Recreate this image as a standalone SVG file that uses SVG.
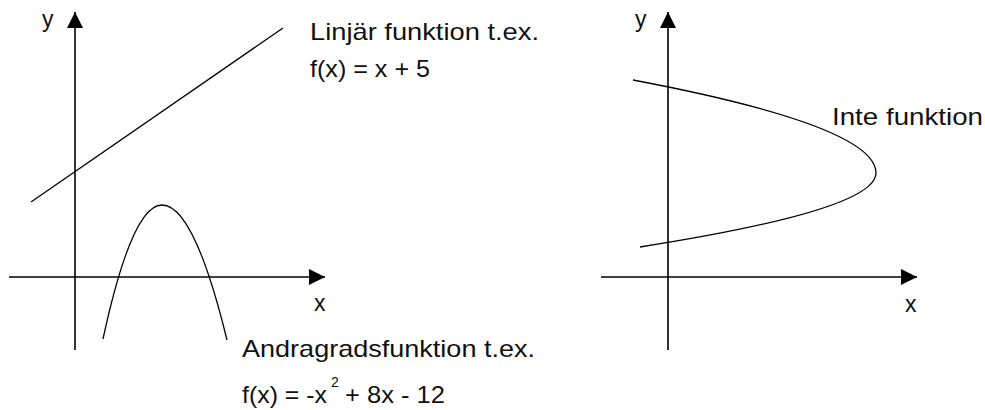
<svg xmlns="http://www.w3.org/2000/svg" width="985" height="410" viewBox="0 0 985 410">
<style>
.ax{stroke:#000;stroke-width:1.6;fill:none}
.cv{stroke:#000;stroke-width:1.3;fill:none}
text{font-family:"Liberation Sans",Arial,sans-serif;fill:#111}
.lb{font-size:24px}
.al{font-size:23px}
.sup{font-size:14px}
</style>
<defs>
<marker id="arr" markerUnits="userSpaceOnUse" markerWidth="17" markerHeight="18" refX="16" refY="9" orient="auto" viewBox="0 0 17 18">
<path d="M0,1 L16,9 L0,17 z" fill="#000"/>
</marker>
</defs>
<g id="left-graph">
<g id="left-axes">
<line class="ax" x1="9" y1="277" x2="325" y2="277" marker-end="url(#arr)"/>
<line class="ax" x1="75" y1="350" x2="75" y2="12" marker-end="url(#arr)"/>
<text class="al" x="42" y="27">y</text>
<text class="al" x="314" y="311">x</text>
</g>
<g id="linear">
<line class="cv" x1="31" y1="202" x2="283" y2="28"/>
<text class="lb" x="310" y="40" textLength="229" lengthAdjust="spacingAndGlyphs">Linjär funktion t.ex.</text>
<text class="lb" x="310" y="77" textLength="120" lengthAdjust="spacingAndGlyphs">f(x) = x + 5</text>
</g>
<g id="quadratic">
<path class="cv" d="M103,339 Q132,205 162,205 Q194,205 227,340"/>
<text class="lb" x="242" y="357" textLength="293" lengthAdjust="spacingAndGlyphs">Andragradsfunktion t.ex.</text>
<text class="lb" x="242" y="403" textLength="85" lengthAdjust="spacingAndGlyphs">f(x) = -x</text>
<text class="sup" x="331" y="387">2</text>
<text class="lb" x="345" y="403" textLength="100" lengthAdjust="spacingAndGlyphs">+ 8x - 12</text>
</g>
</g>
<g id="right-graph">
<g id="right-axes">
<line class="ax" x1="601" y1="277" x2="917" y2="277" marker-end="url(#arr)"/>
<line class="ax" x1="668" y1="350" x2="668" y2="12" marker-end="url(#arr)"/>
<text class="al" x="635" y="27">y</text>
<text class="al" x="905" y="312">x</text>
</g>
<g id="not-function">
<path class="cv" d="M633,80 Q876,126 876,173 Q876,210 640,247"/>
<text class="lb" x="832" y="125" textLength="151" lengthAdjust="spacingAndGlyphs">Inte funktion</text>
</g>
</g>
</svg>
